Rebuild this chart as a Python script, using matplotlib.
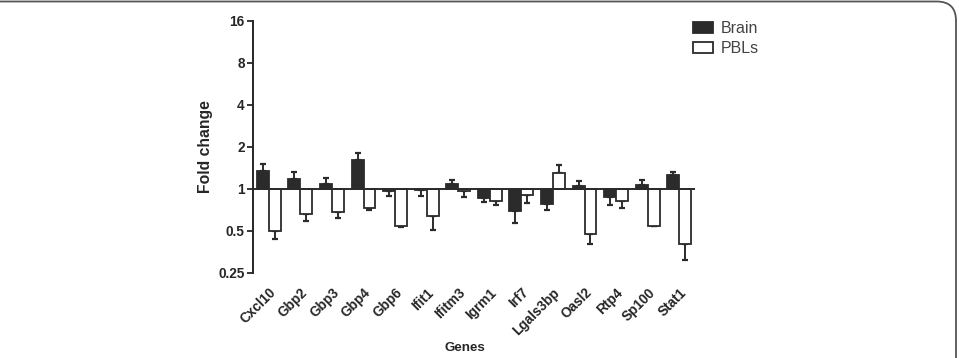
import matplotlib
matplotlib.use("Agg")
import matplotlib.pyplot as plt
from matplotlib.patches import FancyBboxPatch, Patch
import numpy as np

genes = ["Cxcl10", "Gbp2", "Gbp3", "Gbp4", "Gbp6", "Ifit1", "Ifitm3", "Igrm1",
         "Irf7", "Lgals3bp", "Oasl2", "Rtp4", "Sp100", "Stat1"]
brain = [1.35, 1.18, 1.09, 1.61, 0.97, 0.99, 1.08, 0.86, 0.70, 0.78, 1.05, 0.88, 1.07, 1.27]
brain_err_end = [1.51, 1.32, 1.20, 1.80, 0.89, 0.89, 1.16, 0.81, 0.57, 0.71, 1.14, 0.77, 1.16, 1.32]
pbl = [0.50, 0.66, 0.68, 0.73, 0.54, 0.64, 0.96, 0.82, 0.905, 1.30, 0.476, 0.82, 0.545, 0.404]
pbl_err_end = [0.44, 0.59, 0.62, 0.71, 0.53, 0.51, 0.87, 0.77, 0.80, 1.49, 0.405, 0.73, 0.54, 0.31]
yticks = [0.25, 0.5, 1, 2, 4, 8, 16]
ytick_labels = ["0.25", "0.5", "1", "2", "4", "8", "16"]

plt.rcParams['font.family'] = ['Liberation Sans', 'DejaVu Sans']

W, H = 959, 358
fig = plt.figure(figsize=(W / 100, H / 100), dpi=100)
ax = fig.add_axes([253 / W, (H - 273) / H, (695 - 253) / W, (273 - 21) / H])

x = np.arange(len(genes))
bw = 0.38
dark = "#2b2b2b"
txt = "#262626"

def draw(vals, ends, offset, face):
    vals = np.array(vals)
    ends = np.array(ends)
    ax.bar(x + offset, vals - 1, bottom=1, width=bw, color=face, edgecolor=dark,
           linewidth=1.3, zorder=3)
    lower = np.where(ends < vals, vals - ends, 0)
    upper = np.where(ends > vals, ends - vals, 0)
    ax.errorbar(x + offset, vals, yerr=[lower, upper], fmt="none", ecolor=dark,
                elinewidth=1.4, capsize=2.3, capthick=1.6, zorder=2)

draw(brain, brain_err_end, -bw / 2, dark)
draw(pbl, pbl_err_end, bw / 2, "white")

ax.set_yscale("log", base=2)
ax.set_ylim(0.25, 16)
ax.set_xlim(-0.5, len(genes) - 0.5)
ax.set_yticks(yticks)
ax.set_yticklabels(ytick_labels, fontsize=9.8, fontweight="bold", color=txt)
ax.yaxis.set_minor_locator(matplotlib.ticker.NullLocator())
ax.tick_params(axis="y", length=4, width=1.3, color=txt, pad=2)
ax.axhline(1, color=dark, linewidth=1.4, zorder=4)

ax.set_xticks(x)
ax.set_xticklabels(genes, rotation=45, ha="right", rotation_mode="anchor",
                   fontsize=9.8, fontweight="bold", color=txt)
ax.tick_params(axis="x", length=0, pad=9)

for s in ["top", "right", "bottom"]:
    ax.spines[s].set_visible(False)
ax.spines["left"].set_linewidth(1.4)
ax.spines["left"].set_color(txt)

ax.set_ylabel("Fold change", fontsize=11.3, fontweight="bold", color=txt, labelpad=4)
fig.text(465 / W, (H - 348) / H, "Genes", fontsize=9.6, fontweight="bold",
         color=txt, ha="center", va="center")

handles = [Patch(facecolor=dark, edgecolor=dark, linewidth=1.3, label="Brain"),
           Patch(facecolor="white", edgecolor=dark, linewidth=1.3, label="PBLs")]
fig.legend(handles=handles, loc="upper left", bbox_to_anchor=(690 / W, (H - 18) / H),
           frameon=False, fontsize=11.5, handlelength=1.25, handleheight=0.75,
           handletextpad=0.5, labelspacing=0.3, labelcolor="#444444",
           borderaxespad=0, borderpad=0.2)

# panel frame (cropped rounded rectangle)
frame = FancyBboxPatch((-30 / W, -30 / H), (956 + 30) / W, (H - 1.5 + 30) / H,
                       boxstyle="round,pad=0,rounding_size=0.02",
                       transform=fig.transFigure, facecolor="none",
                       edgecolor="#555555", linewidth=1.3, clip_on=False,
                       mutation_aspect=W / H)
fig.patches.append(frame)

fig.savefig("out.png", dpi=100)
